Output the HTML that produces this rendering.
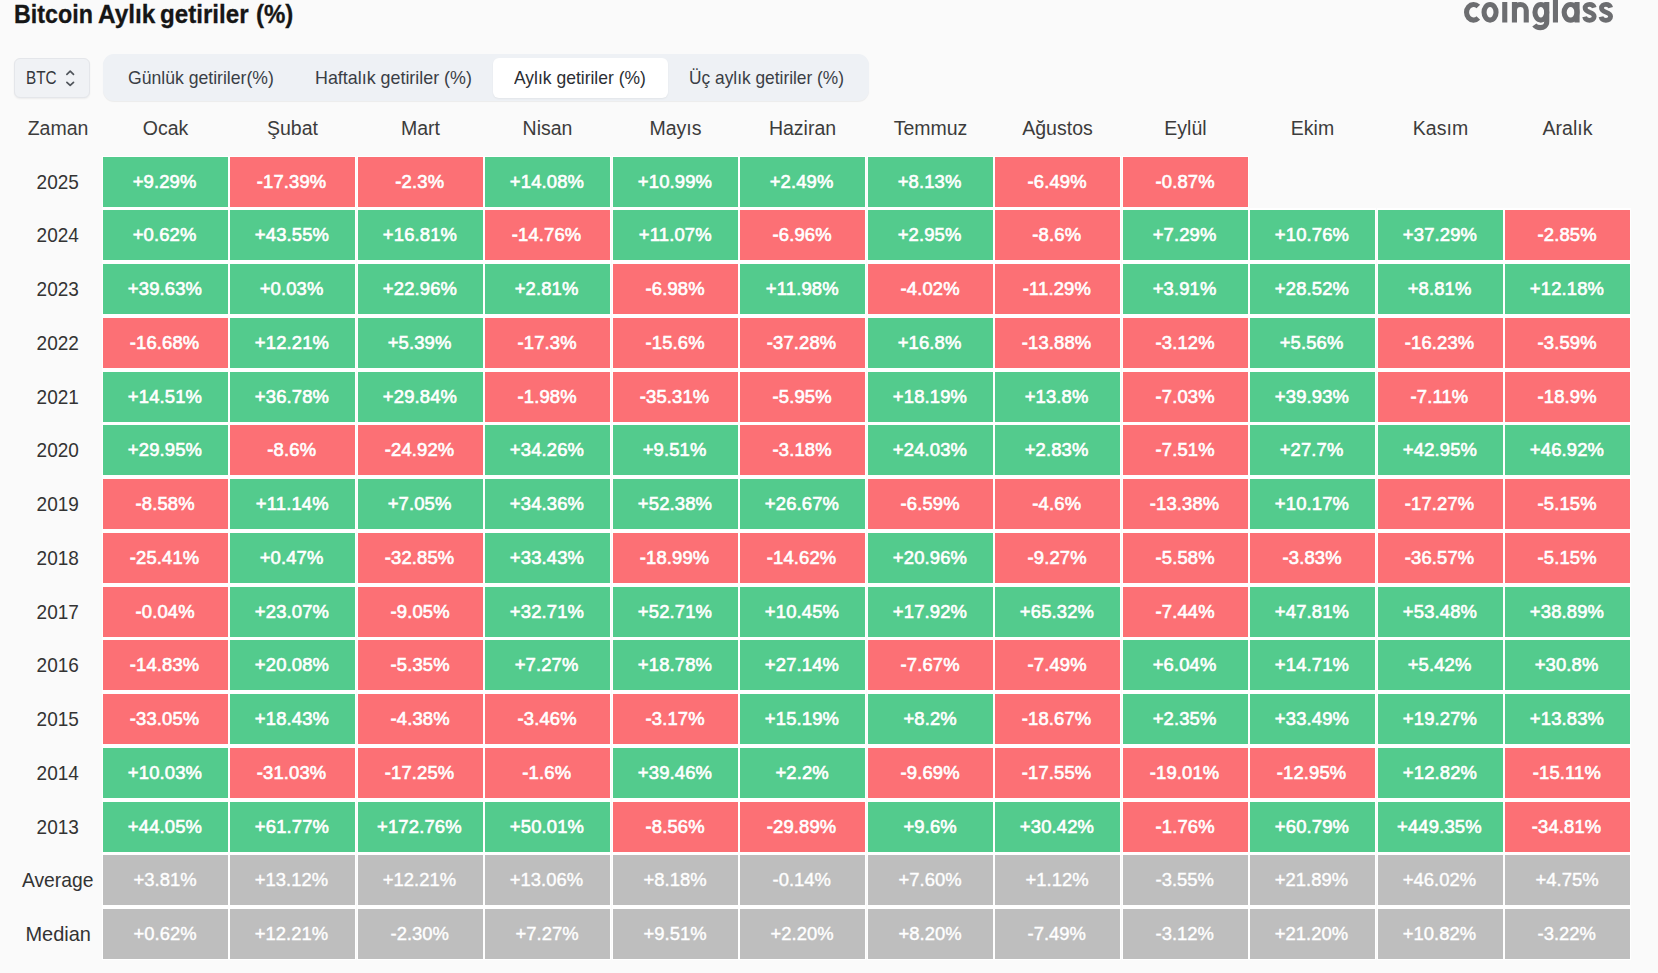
<!DOCTYPE html>
<html lang="tr">
<head>
<meta charset="utf-8">
<title>Bitcoin Aylık getiriler (%)</title>
<style>
html,body{margin:0;padding:0;}
body{width:1658px;height:973px;position:relative;overflow:hidden;background:#fafafa;font-family:"Liberation Sans",sans-serif;color:#333;}
.abs{position:absolute;white-space:nowrap;}
.ft{position:absolute;white-space:nowrap;transform-origin:0 0;display:block;}
.ttl{font-weight:bold;color:#161616;-webkit-text-stroke:0.3px #161616;}
.sel{position:absolute;left:14px;top:58px;width:74px;height:38px;border:1px solid #e4e6ea;border-radius:6px;background:#f0f2f5;box-shadow:0 1px 2px rgba(0,0,0,0.06);}
.btc{color:#34373c;}
.tabs{position:absolute;left:103px;top:54px;width:766px;height:47px;border-radius:11px;background:#eef1f5;box-shadow:0 1px 1px rgba(0,0,0,0.06);}
.tabon{position:absolute;left:493px;top:58px;width:175px;height:40px;border-radius:6px;background:#fff;box-shadow:0 1px 2px rgba(0,0,0,0.05);}
.tb{color:#3a3e45;}
.hd{position:absolute;top:110px;height:36px;line-height:36px;font-size:19.5px;color:#3c3c3c;text-align:center;white-space:nowrap;}
.yr{position:absolute;left:14px;width:88px;height:50px;line-height:51px;font-size:19.8px;color:#333;text-align:center;white-space:nowrap;}
.yr span{display:inline-block;transform:translateX(-0.3px) scaleX(0.96);}
.c span{display:inline-block;transform:translate(-0.7px,-0.7px) scaleX(0.96);}
.c{position:absolute;width:125px;height:50px;line-height:51px;text-align:center;font-size:19.2px;color:#fff;white-space:nowrap;box-shadow:0 0 0 1px #fff,0 2px 0 1px #fff,0 -1px 0 1px #fff;}
.g{background:#53cb8d;-webkit-text-stroke:0.65px #fff;letter-spacing:0.15px;}
.r{background:#fc7075;-webkit-text-stroke:0.65px #fff;letter-spacing:0.15px;}
.a{background:#bebebe;-webkit-text-stroke:0.4px #fff;}
.c.first{box-shadow:0 0 0 1px #fff,0 2px 0 1px #fff;}
.c.last{box-shadow:0 0 0 1px #fff,0 -1px 0 1px #fff;}
</style>
</head>
<body>
<span class="ft ttl" style="left:14.4px;top:1.7px;font-size:25.3px;line-height:25.3px;transform:scaleX(0.92);">Bitcoin</span>
<span class="ft ttl" style="left:97.64px;top:1.7px;font-size:25.3px;line-height:25.3px;transform:scaleX(0.9638);">Aylık</span>
<span class="ft ttl" style="left:159.8px;top:1.7px;font-size:25.3px;line-height:25.3px;transform:scaleX(0.9549);">getiriler</span>
<span class="ft ttl" style="left:255.6px;top:1.7px;font-size:25.3px;line-height:25.3px;transform:scaleX(0.95);">(%)</span>
<svg class="abs" style="left:1455px;top:0" width="170" height="40" viewBox="0 0 170 40" fill="none" stroke="#6c6d70" stroke-width="5.1">
<path d="M23.32 6.6 A7 7.8 0 1 0 23.32 18"/>
<ellipse cx="35.05" cy="12.3" rx="6" ry="7.8"/>
<path d="M49.75 2 V22.5"/>
<path d="M59.45 2 V22.5 M59.45 10.35 A5.9 5.9 0 0 1 71.25 10.35 V22.5"/>
<ellipse cx="85.85" cy="12.3" rx="5.9" ry="7.8"/>
<path d="M91.75 2 V21.6 C91.75 26 88.5 27.65 85.5 27.65 C82.5 27.65 80.5 26.6 79.3 25"/>
<path d="M100.45 -2 V22.5"/>
<ellipse cx="115.6" cy="12.3" rx="6.45" ry="7.8"/>
<path d="M122.05 2 V22.5"/>
<path id="ss" stroke-width="4.8" d="M139.3 7.6 C138.7 5.6 136.9 4.3 134.6 4.3 C131.9 4.3 130.1 5.9 130.1 8 C130.1 10.6 132.3 11.4 134.7 12.2 C137.3 13 139.2 14 139.2 16.6 C139.2 18.9 137.1 20.3 134.5 20.3 C132 20.3 130.1 18.9 129.6 16.8"/>
<path stroke-width="4.8" transform="translate(16.4 0)" d="M139.3 7.6 C138.7 5.6 136.9 4.3 134.6 4.3 C131.9 4.3 130.1 5.9 130.1 8 C130.1 10.6 132.3 11.4 134.7 12.2 C137.3 13 139.2 14 139.2 16.6 C139.2 18.9 137.1 20.3 134.5 20.3 C132 20.3 130.1 18.9 129.6 16.8"/>
</svg>
<div class="sel"></div>
<svg class="abs" style="left:60px;top:65px" width="20" height="26" viewBox="60 65 20 26"><path d="M66.9 74.3 L70.2 71.1 L73.5 74.3 M66.9 82.3 L70.2 85.4 L73.5 82.3" fill="none" stroke="#50555b" stroke-width="1.7" stroke-linecap="round" stroke-linejoin="round"/></svg>
<div class="tabs"></div>
<div class="tabon"></div>
<span class="ft btc" style="left:25.9px;top:69.8px;font-size:17.6px;line-height:17.6px;transform:scaleX(0.87);">BTC</span>
<span class="ft tb" style="left:127.7px;top:69.7px;font-size:17.9px;line-height:17.9px;transform:scaleX(0.984);">Günlük getiriler(%)</span>
<span class="ft tb" style="left:315.3px;top:69.7px;font-size:17.9px;line-height:17.9px;transform:scaleX(0.9987);">Haftalık getiriler (%)</span>
<span class="ft tb" style="left:514.0px;top:69.7px;font-size:17.9px;line-height:17.9px;transform:scaleX(0.9776);color:#2b2e33;">Aylık getiriler (%)</span>
<span class="ft tb" style="left:688.62px;top:69.7px;font-size:17.9px;line-height:17.9px;transform:scaleX(0.9688);">Üç aylık getiriler (%)</span>
<div class="hd" style="left:14px;width:88px">Zaman</div>
<div class="hd" style="left:103px;width:125px">Ocak</div>
<div class="hd" style="left:230px;width:125px">Şubat</div>
<div class="hd" style="left:358px;width:125px">Mart</div>
<div class="hd" style="left:485px;width:125px">Nisan</div>
<div class="hd" style="left:613px;width:125px">Mayıs</div>
<div class="hd" style="left:740px;width:125px">Haziran</div>
<div class="hd" style="left:868px;width:125px">Temmuz</div>
<div class="hd" style="left:995px;width:125px">Ağustos</div>
<div class="hd" style="left:1123px;width:125px">Eylül</div>
<div class="hd" style="left:1250px;width:125px">Ekim</div>
<div class="hd" style="left:1378px;width:125px">Kasım</div>
<div class="hd" style="left:1505px;width:125px">Aralık</div>
<div class="yr" style="top:157px"><span>2025</span></div>
<div class="c g first" style="left:103px;top:157px"><span>+9.29%</span></div>
<div class="c r first" style="left:230px;top:157px"><span>-17.39%</span></div>
<div class="c r first" style="left:358px;top:157px"><span>-2.3%</span></div>
<div class="c g first" style="left:485px;top:157px"><span>+14.08%</span></div>
<div class="c g first" style="left:613px;top:157px"><span>+10.99%</span></div>
<div class="c g first" style="left:740px;top:157px"><span>+2.49%</span></div>
<div class="c g first" style="left:868px;top:157px"><span>+8.13%</span></div>
<div class="c r first" style="left:995px;top:157px"><span>-6.49%</span></div>
<div class="c r first" style="left:1123px;top:157px"><span>-0.87%</span></div>
<div class="yr" style="top:210px"><span>2024</span></div>
<div class="c g" style="left:103px;top:210px"><span>+0.62%</span></div>
<div class="c g" style="left:230px;top:210px"><span>+43.55%</span></div>
<div class="c g" style="left:358px;top:210px"><span>+16.81%</span></div>
<div class="c r" style="left:485px;top:210px"><span>-14.76%</span></div>
<div class="c g" style="left:613px;top:210px"><span>+11.07%</span></div>
<div class="c r" style="left:740px;top:210px"><span>-6.96%</span></div>
<div class="c g" style="left:868px;top:210px"><span>+2.95%</span></div>
<div class="c r" style="left:995px;top:210px"><span>-8.6%</span></div>
<div class="c g" style="left:1123px;top:210px"><span>+7.29%</span></div>
<div class="c g" style="left:1250px;top:210px"><span>+10.76%</span></div>
<div class="c g" style="left:1378px;top:210px"><span>+37.29%</span></div>
<div class="c r" style="left:1505px;top:210px"><span>-2.85%</span></div>
<div class="yr" style="top:264px"><span>2023</span></div>
<div class="c g" style="left:103px;top:264px"><span>+39.63%</span></div>
<div class="c g" style="left:230px;top:264px"><span>+0.03%</span></div>
<div class="c g" style="left:358px;top:264px"><span>+22.96%</span></div>
<div class="c g" style="left:485px;top:264px"><span>+2.81%</span></div>
<div class="c r" style="left:613px;top:264px"><span>-6.98%</span></div>
<div class="c g" style="left:740px;top:264px"><span>+11.98%</span></div>
<div class="c r" style="left:868px;top:264px"><span>-4.02%</span></div>
<div class="c r" style="left:995px;top:264px"><span>-11.29%</span></div>
<div class="c g" style="left:1123px;top:264px"><span>+3.91%</span></div>
<div class="c g" style="left:1250px;top:264px"><span>+28.52%</span></div>
<div class="c g" style="left:1378px;top:264px"><span>+8.81%</span></div>
<div class="c g" style="left:1505px;top:264px"><span>+12.18%</span></div>
<div class="yr" style="top:318px"><span>2022</span></div>
<div class="c r" style="left:103px;top:318px"><span>-16.68%</span></div>
<div class="c g" style="left:230px;top:318px"><span>+12.21%</span></div>
<div class="c g" style="left:358px;top:318px"><span>+5.39%</span></div>
<div class="c r" style="left:485px;top:318px"><span>-17.3%</span></div>
<div class="c r" style="left:613px;top:318px"><span>-15.6%</span></div>
<div class="c r" style="left:740px;top:318px"><span>-37.28%</span></div>
<div class="c g" style="left:868px;top:318px"><span>+16.8%</span></div>
<div class="c r" style="left:995px;top:318px"><span>-13.88%</span></div>
<div class="c r" style="left:1123px;top:318px"><span>-3.12%</span></div>
<div class="c g" style="left:1250px;top:318px"><span>+5.56%</span></div>
<div class="c r" style="left:1378px;top:318px"><span>-16.23%</span></div>
<div class="c r" style="left:1505px;top:318px"><span>-3.59%</span></div>
<div class="yr" style="top:372px"><span>2021</span></div>
<div class="c g" style="left:103px;top:372px"><span>+14.51%</span></div>
<div class="c g" style="left:230px;top:372px"><span>+36.78%</span></div>
<div class="c g" style="left:358px;top:372px"><span>+29.84%</span></div>
<div class="c r" style="left:485px;top:372px"><span>-1.98%</span></div>
<div class="c r" style="left:613px;top:372px"><span>-35.31%</span></div>
<div class="c r" style="left:740px;top:372px"><span>-5.95%</span></div>
<div class="c g" style="left:868px;top:372px"><span>+18.19%</span></div>
<div class="c g" style="left:995px;top:372px"><span>+13.8%</span></div>
<div class="c r" style="left:1123px;top:372px"><span>-7.03%</span></div>
<div class="c g" style="left:1250px;top:372px"><span>+39.93%</span></div>
<div class="c r" style="left:1378px;top:372px"><span>-7.11%</span></div>
<div class="c r" style="left:1505px;top:372px"><span>-18.9%</span></div>
<div class="yr" style="top:425px"><span>2020</span></div>
<div class="c g" style="left:103px;top:425px"><span>+29.95%</span></div>
<div class="c r" style="left:230px;top:425px"><span>-8.6%</span></div>
<div class="c r" style="left:358px;top:425px"><span>-24.92%</span></div>
<div class="c g" style="left:485px;top:425px"><span>+34.26%</span></div>
<div class="c g" style="left:613px;top:425px"><span>+9.51%</span></div>
<div class="c r" style="left:740px;top:425px"><span>-3.18%</span></div>
<div class="c g" style="left:868px;top:425px"><span>+24.03%</span></div>
<div class="c g" style="left:995px;top:425px"><span>+2.83%</span></div>
<div class="c r" style="left:1123px;top:425px"><span>-7.51%</span></div>
<div class="c g" style="left:1250px;top:425px"><span>+27.7%</span></div>
<div class="c g" style="left:1378px;top:425px"><span>+42.95%</span></div>
<div class="c g" style="left:1505px;top:425px"><span>+46.92%</span></div>
<div class="yr" style="top:479px"><span>2019</span></div>
<div class="c r" style="left:103px;top:479px"><span>-8.58%</span></div>
<div class="c g" style="left:230px;top:479px"><span>+11.14%</span></div>
<div class="c g" style="left:358px;top:479px"><span>+7.05%</span></div>
<div class="c g" style="left:485px;top:479px"><span>+34.36%</span></div>
<div class="c g" style="left:613px;top:479px"><span>+52.38%</span></div>
<div class="c g" style="left:740px;top:479px"><span>+26.67%</span></div>
<div class="c r" style="left:868px;top:479px"><span>-6.59%</span></div>
<div class="c r" style="left:995px;top:479px"><span>-4.6%</span></div>
<div class="c r" style="left:1123px;top:479px"><span>-13.38%</span></div>
<div class="c g" style="left:1250px;top:479px"><span>+10.17%</span></div>
<div class="c r" style="left:1378px;top:479px"><span>-17.27%</span></div>
<div class="c r" style="left:1505px;top:479px"><span>-5.15%</span></div>
<div class="yr" style="top:533px"><span>2018</span></div>
<div class="c r" style="left:103px;top:533px"><span>-25.41%</span></div>
<div class="c g" style="left:230px;top:533px"><span>+0.47%</span></div>
<div class="c r" style="left:358px;top:533px"><span>-32.85%</span></div>
<div class="c g" style="left:485px;top:533px"><span>+33.43%</span></div>
<div class="c r" style="left:613px;top:533px"><span>-18.99%</span></div>
<div class="c r" style="left:740px;top:533px"><span>-14.62%</span></div>
<div class="c g" style="left:868px;top:533px"><span>+20.96%</span></div>
<div class="c r" style="left:995px;top:533px"><span>-9.27%</span></div>
<div class="c r" style="left:1123px;top:533px"><span>-5.58%</span></div>
<div class="c r" style="left:1250px;top:533px"><span>-3.83%</span></div>
<div class="c r" style="left:1378px;top:533px"><span>-36.57%</span></div>
<div class="c r" style="left:1505px;top:533px"><span>-5.15%</span></div>
<div class="yr" style="top:587px"><span>2017</span></div>
<div class="c r" style="left:103px;top:587px"><span>-0.04%</span></div>
<div class="c g" style="left:230px;top:587px"><span>+23.07%</span></div>
<div class="c r" style="left:358px;top:587px"><span>-9.05%</span></div>
<div class="c g" style="left:485px;top:587px"><span>+32.71%</span></div>
<div class="c g" style="left:613px;top:587px"><span>+52.71%</span></div>
<div class="c g" style="left:740px;top:587px"><span>+10.45%</span></div>
<div class="c g" style="left:868px;top:587px"><span>+17.92%</span></div>
<div class="c g" style="left:995px;top:587px"><span>+65.32%</span></div>
<div class="c r" style="left:1123px;top:587px"><span>-7.44%</span></div>
<div class="c g" style="left:1250px;top:587px"><span>+47.81%</span></div>
<div class="c g" style="left:1378px;top:587px"><span>+53.48%</span></div>
<div class="c g" style="left:1505px;top:587px"><span>+38.89%</span></div>
<div class="yr" style="top:640px"><span>2016</span></div>
<div class="c r" style="left:103px;top:640px"><span>-14.83%</span></div>
<div class="c g" style="left:230px;top:640px"><span>+20.08%</span></div>
<div class="c r" style="left:358px;top:640px"><span>-5.35%</span></div>
<div class="c g" style="left:485px;top:640px"><span>+7.27%</span></div>
<div class="c g" style="left:613px;top:640px"><span>+18.78%</span></div>
<div class="c g" style="left:740px;top:640px"><span>+27.14%</span></div>
<div class="c r" style="left:868px;top:640px"><span>-7.67%</span></div>
<div class="c r" style="left:995px;top:640px"><span>-7.49%</span></div>
<div class="c g" style="left:1123px;top:640px"><span>+6.04%</span></div>
<div class="c g" style="left:1250px;top:640px"><span>+14.71%</span></div>
<div class="c g" style="left:1378px;top:640px"><span>+5.42%</span></div>
<div class="c g" style="left:1505px;top:640px"><span>+30.8%</span></div>
<div class="yr" style="top:694px"><span>2015</span></div>
<div class="c r" style="left:103px;top:694px"><span>-33.05%</span></div>
<div class="c g" style="left:230px;top:694px"><span>+18.43%</span></div>
<div class="c r" style="left:358px;top:694px"><span>-4.38%</span></div>
<div class="c r" style="left:485px;top:694px"><span>-3.46%</span></div>
<div class="c r" style="left:613px;top:694px"><span>-3.17%</span></div>
<div class="c g" style="left:740px;top:694px"><span>+15.19%</span></div>
<div class="c g" style="left:868px;top:694px"><span>+8.2%</span></div>
<div class="c r" style="left:995px;top:694px"><span>-18.67%</span></div>
<div class="c g" style="left:1123px;top:694px"><span>+2.35%</span></div>
<div class="c g" style="left:1250px;top:694px"><span>+33.49%</span></div>
<div class="c g" style="left:1378px;top:694px"><span>+19.27%</span></div>
<div class="c g" style="left:1505px;top:694px"><span>+13.83%</span></div>
<div class="yr" style="top:748px"><span>2014</span></div>
<div class="c g" style="left:103px;top:748px"><span>+10.03%</span></div>
<div class="c r" style="left:230px;top:748px"><span>-31.03%</span></div>
<div class="c r" style="left:358px;top:748px"><span>-17.25%</span></div>
<div class="c r" style="left:485px;top:748px"><span>-1.6%</span></div>
<div class="c g" style="left:613px;top:748px"><span>+39.46%</span></div>
<div class="c g" style="left:740px;top:748px"><span>+2.2%</span></div>
<div class="c r" style="left:868px;top:748px"><span>-9.69%</span></div>
<div class="c r" style="left:995px;top:748px"><span>-17.55%</span></div>
<div class="c r" style="left:1123px;top:748px"><span>-19.01%</span></div>
<div class="c r" style="left:1250px;top:748px"><span>-12.95%</span></div>
<div class="c g" style="left:1378px;top:748px"><span>+12.82%</span></div>
<div class="c r" style="left:1505px;top:748px"><span>-15.11%</span></div>
<div class="yr" style="top:802px"><span>2013</span></div>
<div class="c g" style="left:103px;top:802px"><span>+44.05%</span></div>
<div class="c g" style="left:230px;top:802px"><span>+61.77%</span></div>
<div class="c g" style="left:358px;top:802px"><span>+172.76%</span></div>
<div class="c g" style="left:485px;top:802px"><span>+50.01%</span></div>
<div class="c r" style="left:613px;top:802px"><span>-8.56%</span></div>
<div class="c r" style="left:740px;top:802px"><span>-29.89%</span></div>
<div class="c g" style="left:868px;top:802px"><span>+9.6%</span></div>
<div class="c g" style="left:995px;top:802px"><span>+30.42%</span></div>
<div class="c r" style="left:1123px;top:802px"><span>-1.76%</span></div>
<div class="c g" style="left:1250px;top:802px"><span>+60.79%</span></div>
<div class="c g" style="left:1378px;top:802px"><span>+449.35%</span></div>
<div class="c r" style="left:1505px;top:802px"><span>-34.81%</span></div>
<div class="yr" style="top:855px"><span style="transform:translateX(0px) scaleX(0.975)">Average</span></div>
<div class="c a" style="left:103px;top:855px"><span>+3.81%</span></div>
<div class="c a" style="left:230px;top:855px"><span>+13.12%</span></div>
<div class="c a" style="left:358px;top:855px"><span>+12.21%</span></div>
<div class="c a" style="left:485px;top:855px"><span>+13.06%</span></div>
<div class="c a" style="left:613px;top:855px"><span>+8.18%</span></div>
<div class="c a" style="left:740px;top:855px"><span>-0.14%</span></div>
<div class="c a" style="left:868px;top:855px"><span>+7.60%</span></div>
<div class="c a" style="left:995px;top:855px"><span>+1.12%</span></div>
<div class="c a" style="left:1123px;top:855px"><span>-3.55%</span></div>
<div class="c a" style="left:1250px;top:855px"><span>+21.89%</span></div>
<div class="c a" style="left:1378px;top:855px"><span>+46.02%</span></div>
<div class="c a" style="left:1505px;top:855px"><span>+4.75%</span></div>
<div class="yr" style="top:909px"><span style="transform:translateX(-0.3px) scaleX(1.01)">Median</span></div>
<div class="c a last" style="left:103px;top:909px"><span>+0.62%</span></div>
<div class="c a last" style="left:230px;top:909px"><span>+12.21%</span></div>
<div class="c a last" style="left:358px;top:909px"><span>-2.30%</span></div>
<div class="c a last" style="left:485px;top:909px"><span>+7.27%</span></div>
<div class="c a last" style="left:613px;top:909px"><span>+9.51%</span></div>
<div class="c a last" style="left:740px;top:909px"><span>+2.20%</span></div>
<div class="c a last" style="left:868px;top:909px"><span>+8.20%</span></div>
<div class="c a last" style="left:995px;top:909px"><span>-7.49%</span></div>
<div class="c a last" style="left:1123px;top:909px"><span>-3.12%</span></div>
<div class="c a last" style="left:1250px;top:909px"><span>+21.20%</span></div>
<div class="c a last" style="left:1378px;top:909px"><span>+10.82%</span></div>
<div class="c a last" style="left:1505px;top:909px"><span>-3.22%</span></div>
</body>
</html>
